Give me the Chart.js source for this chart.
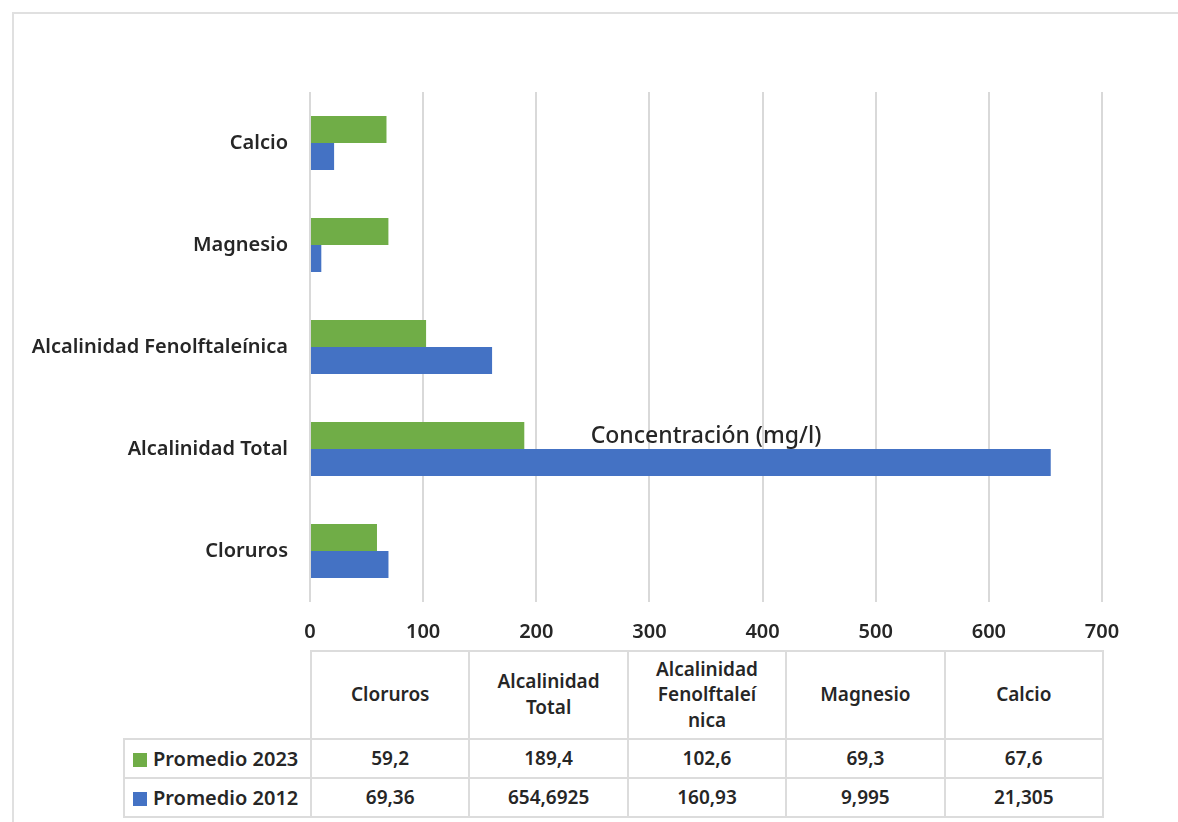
<!DOCTYPE html>
<html>
<head>
<meta charset="utf-8">
<script src="https://cdn.jsdelivr.net/npm/chart.js@4"></script>
<style>
  html, body { margin: 0; padding: 0; background: #fff; width: 1178px; height: 822px; overflow: hidden; }
  #frame { position: absolute; left: 12px; top: 12px; width: 1200px; height: 850px; border: 2px solid #e0e0e0; box-sizing: border-box; }
  #chartBox { position: absolute; left: 0; top: 0; width: 1178px; height: 650px; }
  table { position: absolute; left: 123px; top: 650px; border-collapse: collapse; font-family: "Noto Sans", sans-serif; font-weight: 600; font-size: 19px; color: #262626; table-layout: fixed; }
  td { border: 2px solid #dcdcdc; text-align: center; padding: 0; line-height: 1.4; }
  td.blank { border: none; }
  tr.head td { height: 86px; line-height: 1.35; }
  tr.r1 td { height: 37px; }
  tr.r2 td { height: 37px; }
  td.leg { text-align: left; padding-left: 8px; white-space: nowrap; font-size: 20px; line-height: 1.2; }
  .sw { display: inline-block; width: 14px; height: 14px; margin-right: 6px; vertical-align: -1px; }
</style>
</head>
<body>
<div id="frame"></div>
<div id="chartBox"><canvas id="c" width="1178" height="650"></canvas></div>
<table id="tbl"></table>
<script>
const categories = ['Cloruros', 'Alcalinidad Total', 'Alcalinidad Fenolftaleínica', 'Magnesio', 'Calcio'];
const tableHeaders = [['Cloruros'], ['Alcalinidad', 'Total'], ['Alcalinidad', 'Fenolftaleí', 'nica'], ['Magnesio'], ['Calcio']];
const seriesNames = ['Promedio 2023', 'Promedio 2012'];
const promedio2023 = [59.2, 189.4, 102.6, 69.3, 67.6];
const promedio2012 = [69.36, 654.6925, 160.93, 9.995, 21.305];
const xTicks = [0, 100, 200, 300, 400, 500, 600, 700];
const axisTitle = 'Concentración (mg/l)';
const GREEN = '#70AD47', BLUE = '#4472C4';

const rev = a => a.slice().reverse();
const FONT = '"Noto Sans", sans-serif';

const titlePlugin = {
  id: 'midTitle',
  afterDatasetsDraw(chart) {
    const ctx = chart.ctx, area = chart.chartArea, y = chart.scales.y;
    const py = y.getPixelForValue(3) - 13;
    ctx.save();
    ctx.font = '500 23px ' + FONT;
    ctx.fillStyle = '#262626';
    ctx.textAlign = 'center';
    ctx.textBaseline = 'middle';
    ctx.fillText(axisTitle, (area.left + area.right) / 2, py);
    ctx.restore();
  }
};

new Chart(document.getElementById('c'), {
  type: 'bar',
  data: {
    labels: rev(categories),
    datasets: [
      { label: seriesNames[0], data: rev(promedio2023), backgroundColor: GREEN, borderWidth: 0 },
      { label: seriesNames[1], data: rev(promedio2012), backgroundColor: BLUE, borderWidth: 0 }
    ]
  },
  options: {
    indexAxis: 'y',
    responsive: false,
    animation: false,
    devicePixelRatio: 1,
    categoryPercentage: 0.53,
    barPercentage: 1,
    layout: { padding: { top: 92, right: 76, bottom: 0, left: 0 } },
    plugins: { legend: { display: false }, tooltip: { enabled: false } },
    scales: {
      x: {
        min: xTicks[0], max: xTicks[xTicks.length - 1],
        afterBuildTicks: s => { s.ticks = xTicks.map(v => ({ value: v })); },
        afterFit: s => { s.height = 48; },
        grid: { color: '#d9d9d9', lineWidth: 2, drawTicks: false },
        border: { display: false },
        ticks: { padding: 18, color: '#262626', font: { family: FONT, size: 20, weight: '600' } }
      },
      y: {
        afterFit: s => { s.width = 310; },
        grid: { display: false, drawTicks: false },
        border: { display: false },
        ticks: { padding: 22, color: '#262626', font: { family: FONT, size: 20, weight: '600' } }
      }
    }
  },
  plugins: [titlePlugin]
});

// data table
const fmt = v => String(v).replace('.', ',');
const tbl = document.getElementById('tbl');
let html = '<colgroup><col style="width:187px">' + categories.map(() => '<col style="width:158.4px">').join('') + '</colgroup>';
html += '<tr class="head"><td class="blank"></td>' + tableHeaders.map(h => '<td>' + h.join('<br>') + '</td>').join('') + '</tr>';
html += '<tr class="r1"><td class="leg"><span class="sw" style="background:' + GREEN + '"></span>' + seriesNames[0] + '</td>' + promedio2023.map(v => '<td>' + fmt(v) + '</td>').join('') + '</tr>';
html += '<tr class="r2"><td class="leg"><span class="sw" style="background:' + BLUE + '"></span>' + seriesNames[1] + '</td>' + promedio2012.map(v => '<td>' + fmt(v) + '</td>').join('') + '</tr>';
tbl.innerHTML = html;
</script>
</body>
</html>
